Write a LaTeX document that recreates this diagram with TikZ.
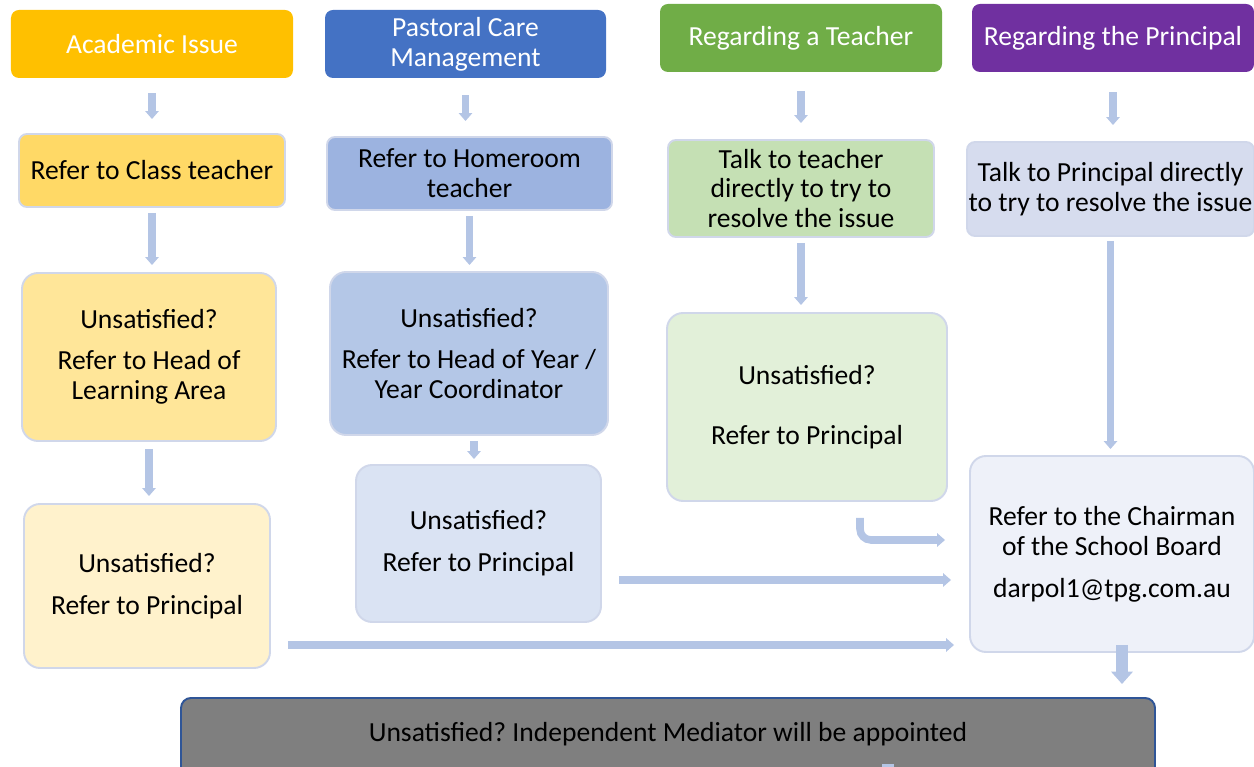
\documentclass[tikz,border=0pt]{standalone}
\usepackage{fontspec}
\setmainfont{Carlito}
\usepackage{xcolor}
\usepackage{tikz}
\usetikzlibrary{arrows.meta}

\definecolor{acadgold}{HTML}{FFC000}
\definecolor{acadone}{HTML}{FFD966}
\definecolor{acadtwo}{HTML}{FFE699}
\definecolor{acadthree}{HTML}{FFF2CC}
\definecolor{pastblue}{HTML}{4472C4}
\definecolor{pastone}{HTML}{9CB3E0}
\definecolor{pasttwo}{HTML}{B4C7E7}
\definecolor{pastthree}{HTML}{DAE3F3}
\definecolor{teachgreen}{HTML}{70AD47}
\definecolor{teachone}{HTML}{C5E0B4}
\definecolor{teachtwo}{HTML}{E2F0D9}
\definecolor{princpurple}{HTML}{7030A0}
\definecolor{princone}{HTML}{D6DCEE}
\definecolor{chairfill}{HTML}{EEF1F9}
\definecolor{medgray}{HTML}{7F7F7F}
\definecolor{medline}{HTML}{2F5597}
\definecolor{boxline}{HTML}{D0D7EA}
\definecolor{arrowblue}{HTML}{B4C5E5}
\frenchspacing

\begin{document}
\begin{tikzpicture}[
  headbox/.style={rounded corners=.16cm, inner sep=0pt, minimum width=5.64cm, minimum height=1.36cm,
    text=white, align=center, font=\fontsize{15.7}{17}\selectfont},
  stepbox/.style={draw=boxline, line width=1.1pt, rounded corners=.16cm, inner sep=0pt,
    align=center, font=\fontsize{15.7}{17}\selectfont},
  bigbox/.style={stepbox, rounded corners=.32cm},
  flow/.style={draw=arrowblue, line width=4.3pt, -{Triangle[width=7.5pt,length=4.5pt]}},
  bigflow/.style={draw=arrowblue, line width=6.5pt, -{Triangle[width=12pt,length=7pt]}},
]
  \useasboundingbox (0,0) rectangle (25.08,-15.34);

  % headers
  \node[headbox, fill=acadgold] (acad) at (3.04,-0.88) {Academic Issue};
  \node[headbox, fill=pastblue, minimum width=5.62cm] (past) at (9.31,-0.88) {Pastoral Care\\Management};
  \node[headbox, fill=teachgreen] (teach) at (16.02,-0.76) {Regarding a Teacher};
  \node[headbox, fill=princpurple] (princ) at (22.26,-0.76) {Regarding the Principal};

  % academic column
  \node[stepbox, fill=acadone, minimum width=5.32cm, minimum height=1.46cm] (cls) at (3.04,-3.41) {Refer to Class teacher};
  \node[bigbox, fill=acadtwo, minimum width=5.08cm, minimum height=3.36cm] (hola) at (2.98,-7.14)
    {Unsatisfied?\\[.22cm] Refer to Head of\\Learning Area};
  \node[bigbox, fill=acadthree, minimum width=4.92cm, minimum height=3.28cm] (prin1) at (2.94,-11.72)
    {Unsatisfied?\\[.24cm] Refer to Principal};

  % pastoral column
  \node[stepbox, fill=pastone, minimum width=5.70cm, minimum height=1.46cm] (home) at (9.39,-3.47) {Refer to Homeroom\\teacher};
  \node[bigbox, fill=pasttwo, minimum width=5.56cm, minimum height=3.26cm] (hoy) at (9.38,-7.07)
    {Unsatisfied?\\[.22cm] Refer to Head of Year /\\Year Coordinator};
  \node[bigbox, fill=pastthree, minimum width=4.90cm, minimum height=3.14cm] (prin2) at (9.57,-10.87)
    {Unsatisfied?\\[.24cm] Refer to Principal};

  % teacher column
  \node[stepbox, fill=teachone, minimum width=5.32cm, minimum height=1.94cm] (talkt) at (16.02,-3.77)
    {Talk to teacher\\directly to try to\\resolve the issue};
  \node[bigbox, fill=teachtwo, minimum width=5.60cm, minimum height=3.76cm] (prin3) at (16.14,-8.14)
    {Unsatisfied?\\[.6cm] Refer to Principal};

  % principal column
  \node[stepbox, fill=princone, minimum width=5.74cm, minimum height=1.88cm] (talkp) at (22.21,-3.78)
    {Talk to Principal directly\\to try to resolve the issue};
  \node[bigbox, fill=chairfill, minimum width=5.68cm, minimum height=3.92cm] (chair) at (22.24,-11.08)
    {Refer to the Chairman\\of the School Board\\[.24cm] darpol1@tpg.com.au};

  % mediator
  \node[stepbox, draw=medline, fill=medgray, rounded corners=.2cm, anchor=north, minimum width=19.48cm,
    text height=.88cm, text depth=.72cm] (medi) at (13.36,-13.94)
    {Unsatisfied? Independent Mediator will be appointed};

  % down arrows
  \draw[flow, shorten <=.3cm, shorten >=.28cm] (acad.south) -- (acad.south |- cls.north);
  \draw[flow, shorten <=.1cm, shorten >=.14cm] (cls.south) -- (cls.south |- hola.north);
  \draw[flow, shorten <=.14cm, shorten >=.14cm] (hola.south) -- (hola.south |- prin1.north);

  \draw[flow, shorten <=.34cm, shorten >=.3cm] (past.south) -- (past.south |- home.north);
  \draw[flow, shorten <=.1cm, shorten >=.12cm] (home.south) -- (home.south |- hoy.north);
  \draw[flow, shorten <=.1cm, shorten >=.1cm] ([xshift=.1cm]hoy.south) -- ([xshift=.1cm]hoy.south |- prin2.north);

  \draw[flow, shorten <=.38cm, shorten >=.32cm] (teach.south) -- (teach.south |- talkt.north);
  \draw[flow, shorten <=.1cm, shorten >=.14cm] (talkt.south) -- (talkt.south |- prin3.north);

  \draw[flow, shorten <=.4cm, shorten >=.32cm] (princ.south) -- (princ.south |- talkp.north);
  \draw[flow, shorten <=.08cm, shorten >=.12cm] (talkp.south) -- (talkp.south |- chair.north);

  % across to the chairman
  \coordinate (p1) at ([shift={(.34,-1.18)}]prin1.east);
  \draw[flow, shorten >=.3cm] (p1) -- (p1 -| chair.west);
  \coordinate (p2) at ([shift={(.34,-.73)}]prin2.east);
  \draw[flow, shorten >=.36cm] (p2) -- (p2 -| chair.west);
  \coordinate (p3) at ([shift={(1.06,-.32)}]prin3.south);
  \draw[flow, rounded corners=.22cm, shorten >=.48cm] (p3) |- ([yshift=.28cm]chair.west);

  % to the mediator
  \draw[bigflow, shorten <=-.16cm, shorten >=.26cm] ([xshift=.2cm]chair.south) -- ([xshift=.2cm]chair.south |- medi.north);
  \draw[bigflow] ([shift={(4.4,.3)}]medi.south) -- ++(0,-.8);
\end{tikzpicture}
\end{document}
